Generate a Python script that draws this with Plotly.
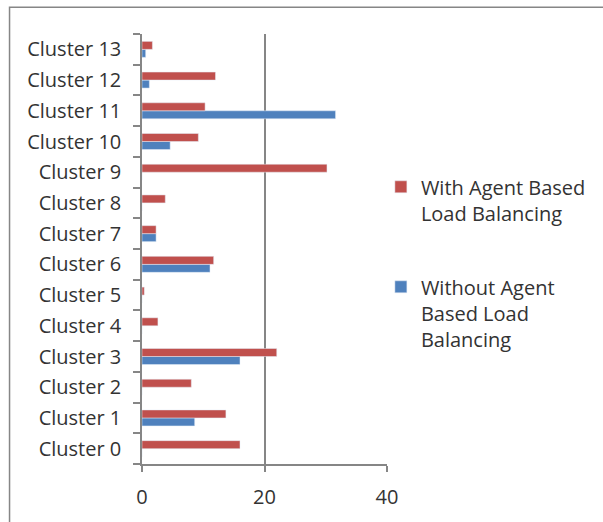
import plotly.graph_objects as go

# Cluster labels, bottom to top
clusters = [f"Cluster {i}" for i in range(14)]

# Values per cluster (Cluster 0 .. Cluster 13)
with_agent = [16.0, 13.7, 8.05, 22.0, 2.6, 0.37, 11.7, 2.3, 3.8, 30.2, 9.2, 10.3, 12.0, 1.7]
without_agent = [0, 8.6, 0, 16.0, 0, 0, 11.1, 2.3, 0, 0, 4.6, 31.6, 1.2, 0.6]

x_ticks = [0, 20, 40]

RED = "#C0504D"
BLUE = "#4F81BD"
GRAY = "#868686"
TEXT = "#333333"
FONT = "Open Sans"

W, H = 603, 522
L, R, T, B = 142, 215, 34, 55
pw, ph = W - L - R, H - T - B

fig = go.Figure()
fig.add_trace(go.Bar(
    y=clusters, x=without_agent, orientation="h", marker_color=BLUE,
    name="Without Agent<br>Based Load<br>Balancing", legendgroup="b", legendrank=2,
))
fig.add_trace(go.Bar(
    y=clusters, x=with_agent, orientation="h", marker_color=RED,
    name="With Agent Based<br>Load Balancing", legendgroup="a", legendrank=1,
))

fig.update_layout(
    width=W, height=H,
    margin=dict(l=L, r=R, t=T, b=B),
    paper_bgcolor="white", plot_bgcolor="white",
    barmode="group", bargap=0.48, bargroupgap=0,
    font=dict(family=FONT, size=20, color=TEXT),
    showlegend=True,
    legend=dict(
        x=0.975, xanchor="left", y=0.69, yanchor="top",
        traceorder="grouped", tracegroupgap=45, valign="top",
        font=dict(family=FONT, size=20, color=TEXT),
        itemwidth=30,
    ),
    xaxis=dict(
        range=[0, 40], tickvals=x_ticks, showgrid=True, gridcolor=GRAY, gridwidth=1.5,
        showline=True, linecolor=GRAY, linewidth=1.5, ticks="outside", ticklen=6,
        tickcolor=GRAY, tickwidth=1.5, zeroline=False, ticklabelstandoff=8,
    ),
    yaxis=dict(
        type="category", categoryorder="array", categoryarray=clusters,
        showline=True, linecolor=GRAY, linewidth=1.5, ticks="outside", ticklen=7,
        tickcolor=GRAY, tickwidth=1.5, tickson="boundaries", showgrid=False, zeroline=False,
        ticklabelstandoff=15,
    ),
    shapes=[dict(
        type="rect", xref="paper", yref="paper",
        x0=(9 - L) / pw, x1=(W + 20 - L) / pw,
        y0=-(B + 20) / ph, y1=(H - B - 7) / ph,
        line=dict(color=GRAY, width=1.5), fillcolor="rgba(0,0,0,0)", layer="below",
    )],
)

fig.write_html("out.html")
